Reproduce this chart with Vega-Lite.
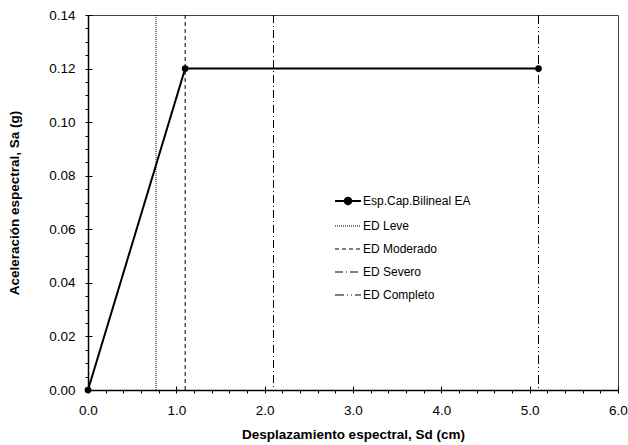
{
  "$schema": "https://vega.github.io/schema/vega-lite/v6.json",
  "width": 530,
  "height": 375,
  "autosize": {"type": "none"},
  "padding": {"left": 88, "top": 15, "right": 10, "bottom": 55},
  "background": "white",
  "config": {
    "font": "Liberation Sans",
    "view": {"stroke": "#444", "strokeWidth": 1},
    "axis": {"domainColor": "black", "tickColor": "black", "labelColor": "black", "titleColor": "black", "grid": false, "labelFont": "Liberation Sans", "titleFont": "Liberation Sans", "labelFlush": false}
  },
  "datasets": {
    "curve": [
      {"serie": "Esp.Cap.Bilineal EA", "sd": 0.0, "sa": 0.0},
      {"serie": "Esp.Cap.Bilineal EA", "sd": 1.1, "sa": 0.12},
      {"serie": "Esp.Cap.Bilineal EA", "sd": 5.1, "sa": 0.12}
    ],
    "limits": [
      {"serie": "ED Leve", "sd": 0.77},
      {"serie": "ED Moderado", "sd": 1.1},
      {"serie": "ED Severo", "sd": 2.1},
      {"serie": "ED Completo", "sd": 5.1}
    ]
  },
  "resolve": {"axis": {"x": "independent", "y": "independent"}},
  "layer": [
    {
      "data": {"name": "limits"},
      "mark": {"type": "rule", "color": "black", "strokeWidth": 1},
      "encoding": {
        "x": {"field": "sd", "type": "quantitative", "scale": {"domain": [0, 6], "nice": false}, "axis": null},
        "strokeDash": {
          "field": "serie", "type": "nominal",
          "scale": {
            "domain": ["Esp.Cap.Bilineal EA", "ED Leve", "ED Moderado", "ED Severo", "ED Completo"],
            "range": [[1, 0], [1, 1], [4, 3], [8, 3, 1, 3], [9, 3, 1, 3, 1, 3]]
          },
          "legend": {
            "title": null,
            "orient": "none",
            "legendX": 254,
            "legendY": 180,
            "symbolType": "stroke",
            "symbolSize": 676,
            "symbolStrokeColor": "black",
            "symbolStrokeWidth": 1,
            "labelFont": "Liberation Sans",
            "labelFontSize": 12,
            "labelColor": "black",
            "labelOffset": 9,
            "rowPadding": 11,
            "encode": {
              "symbols": {
                "update": {
                  "shape": {"signal": "datum.value === 'Esp.Cap.Bilineal EA' ? 'M-1,0H1M-0.25,0A0.25,0.25,0,1,1,0.25,0A0.25,0.25,0,1,1,-0.25,0Z' : 'stroke'"},
                  "fill": {"signal": "datum.value === 'Esp.Cap.Bilineal EA' ? 'black' : 'transparent'"},
                  "stroke": {"value": "black"},
                  "strokeWidth": {"signal": "datum.value === 'Esp.Cap.Bilineal EA' ? 2 : 1"}
                }
              }
            }
          }
        }
      }
    },
    {
      "data": {"name": "curve"},
      "mark": {"type": "line", "color": "black", "strokeWidth": 2},
      "encoding": {
        "x": {"field": "sd", "type": "quantitative", "scale": {"domain": [0, 6], "nice": false},
          "axis": {"orient": "bottom", "values": [0,0.2,0.4,0.6,0.8,1,1.2,1.4,1.6,1.8,2,2.2,2.4,2.6,2.8,3,3.2,3.4,3.6,3.8,4,4.2,4.4,4.6,4.8,5,5.2,5.4,5.6,5.8,6], "labels": false, "tickSize": 3, "title": null, "domainWidth": 1.5, "tickWidth": 1}},
        "y": {"field": "sa", "type": "quantitative", "scale": {"domain": [0, 0.14], "nice": false},
          "axis": {"orient": "left", "values": [0,0.005,0.01,0.015,0.02,0.025,0.03,0.035,0.04,0.045,0.05,0.055,0.06,0.065,0.07,0.075,0.08,0.085,0.09,0.095,0.1,0.105,0.11,0.115,0.12,0.125,0.13,0.135,0.14], "labels": false, "tickSize": 3, "title": null, "domainWidth": 1.5, "tickWidth": 1}},
        "strokeDash": {"field": "serie", "type": "nominal"}
      }
    },
    {
      "data": {"name": "curve"},
      "mark": {"type": "point", "filled": true, "color": "black", "size": 45, "opacity": 1},
      "encoding": {
        "x": {"field": "sd", "type": "quantitative", "scale": {"domain": [0, 6], "nice": false},
          "axis": {"orient": "bottom", "values": [0,1,2,3,4,5,6], "format": ".1f", "tickSize": -4, "tickWidth": 1, "domain": false, "labelFontSize": 13.5, "labelPadding": 17, "title": "Desplazamiento espectral, Sd (cm)", "titleFontSize": 13.5, "titleFontWeight": "bold", "titlePadding": 11}},
        "y": {"field": "sa", "type": "quantitative", "scale": {"domain": [0, 0.14], "nice": false},
          "axis": {"orient": "left", "values": [0,0.02,0.04,0.06,0.08,0.1,0.12,0.14], "format": ".2f", "tickSize": -4, "tickWidth": 1, "domain": false, "labelFontSize": 13.5, "labelPadding": 17, "title": "Aceleración espectral, Sa (g)", "titleFontSize": 13.5, "titleFontWeight": "bold", "titlePadding": 27}}
      }
    }
  ]
}
